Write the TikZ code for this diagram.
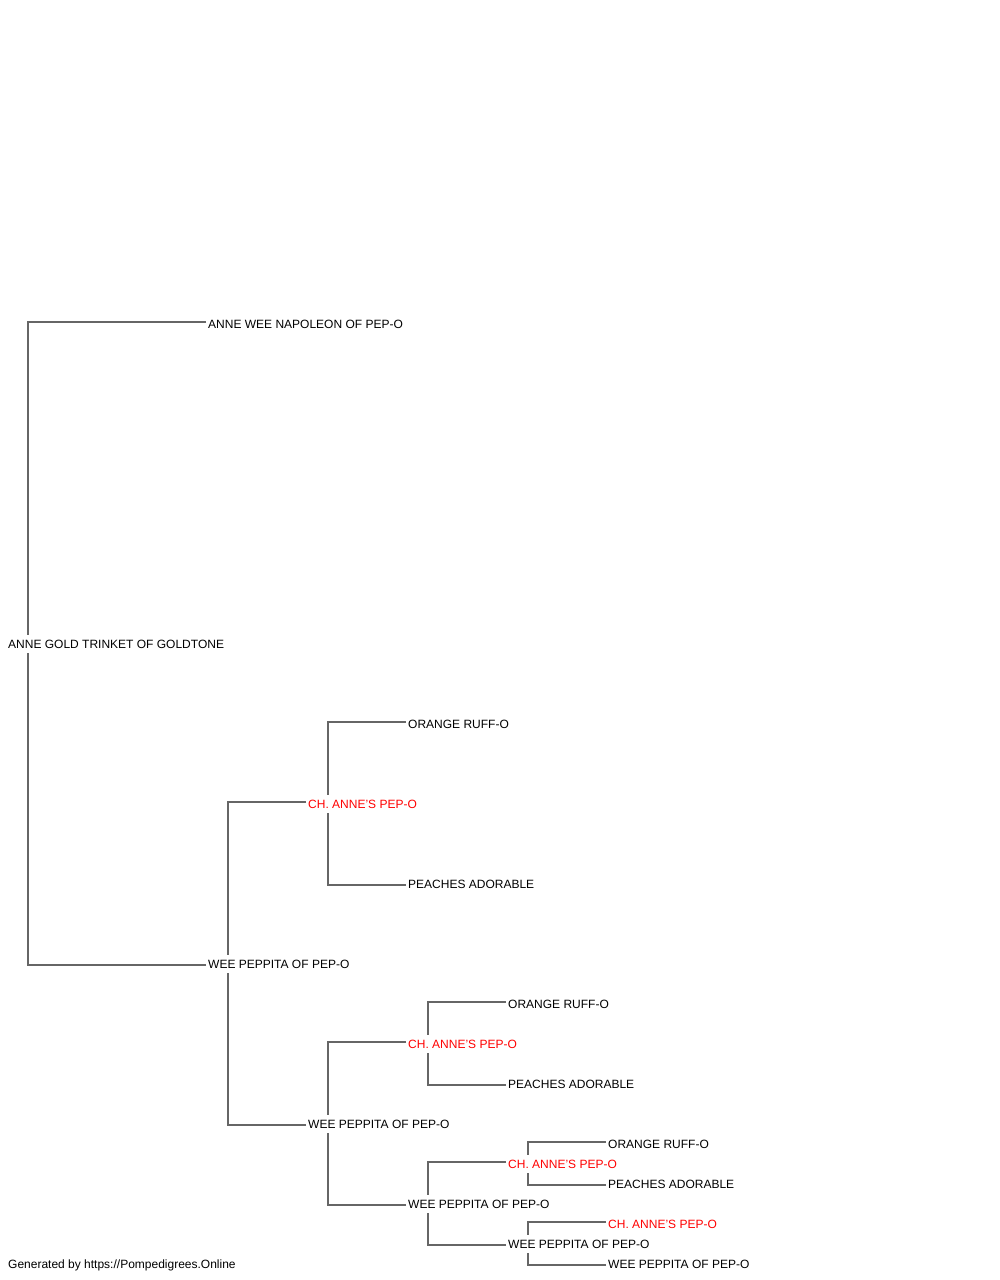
\documentclass[tikz,border=0pt]{standalone}
\usepackage{fontspec}
\setmainfont{Liberation Sans}
\usetikzlibrary{calc}
\definecolor{linegray}{RGB}{102,102,102}
\begin{document}
\begin{tikzpicture}[x=1pt,y=1pt]
\tikzset{dog/.style = {anchor=west,inner xsep=2pt,inner ysep=0pt,minimum height=18pt,text height=8.6pt,text depth=0pt,font=\fontsize{12}{14}\selectfont}}
\tikzset{champ/.style = {dog,text=red}}
\tikzset{edge/.style = {draw=linegray,line width=1.3pt}}
\useasboundingbox[fill=white] (0,0) rectangle (1000,-1280);
\node[dog] (a) at (6,-644) {ANNE GOLD TRINKET OF GOLDTONE};
\node[dog] (b) at (206,-324) {ANNE WEE NAPOLEON OF PEP-O};
\node[dog] (c) at (206,-964) {WEE PEPPITA OF PEP-O};
\node[champ] (d) at (306,-804) {CH. ANNE'S PEP-O};
\node[dog] (e) at (406,-724) {ORANGE RUFF-O};
\node[dog] (f) at (406,-884) {PEACHES ADORABLE};
\node[dog] (g) at (306,-1124) {WEE PEPPITA OF PEP-O};
\node[champ] (h) at (406,-1044) {CH. ANNE'S PEP-O};
\node[dog] (i) at (506,-1004) {ORANGE RUFF-O};
\node[dog] (j) at (506,-1084) {PEACHES ADORABLE};
\node[dog] (k) at (406,-1204) {WEE PEPPITA OF PEP-O};
\node[champ] (l) at (506,-1164) {CH. ANNE'S PEP-O};
\node[dog] (m) at (606,-1144) {ORANGE RUFF-O};
\node[dog] (n) at (606,-1184) {PEACHES ADORABLE};
\node[dog] (o) at (506,-1244) {WEE PEPPITA OF PEP-O};
\node[champ] (p) at (606,-1224) {CH. ANNE'S PEP-O};
\node[dog] (q) at (606,-1264) {WEE PEPPITA OF PEP-O};
\node[dog] (r) at (6,-1264) {Generated by https://Pompedigrees.Online};
\draw[edge] ($(b.west)+(0,2)$) -| ($(a.north west)+(22,0)$);
\draw[edge] ($(c.west)+(0,-1)$) -| ($(a.south west)+(22,0)$);
\draw[edge] ($(d.west)+(0,2)$) -| ($(c.north west)+(22,0)$);
\draw[edge] ($(g.west)+(0,-1)$) -| ($(c.south west)+(22,0)$);
\draw[edge] ($(e.west)+(0,2)$) -| ($(d.north west)+(22,0)$);
\draw[edge] ($(f.west)+(0,-1)$) -| ($(d.south west)+(22,0)$);
\draw[edge] ($(h.west)+(0,2)$) -| ($(g.north west)+(22,0)$);
\draw[edge] ($(k.west)+(0,-1)$) -| ($(g.south west)+(22,0)$);
\draw[edge] ($(i.west)+(0,2)$) -| ($(h.north west)+(22,0)$);
\draw[edge] ($(j.west)+(0,-1)$) -| ($(h.south west)+(22,0)$);
\draw[edge] ($(l.west)+(0,2)$) -| ($(k.north west)+(22,0)$);
\draw[edge] ($(o.west)+(0,-1)$) -| ($(k.south west)+(22,0)$);
\draw[edge] ($(m.west)+(0,2)$) -| ($(l.north west)+(22,0)$);
\draw[edge] ($(n.west)+(0,-1)$) -| ($(l.south west)+(22,0)$);
\draw[edge] ($(p.west)+(0,2)$) -| ($(o.north west)+(22,0)$);
\draw[edge] ($(q.west)+(0,-1)$) -| ($(o.south west)+(22,0)$);
\end{tikzpicture}
\end{document}
